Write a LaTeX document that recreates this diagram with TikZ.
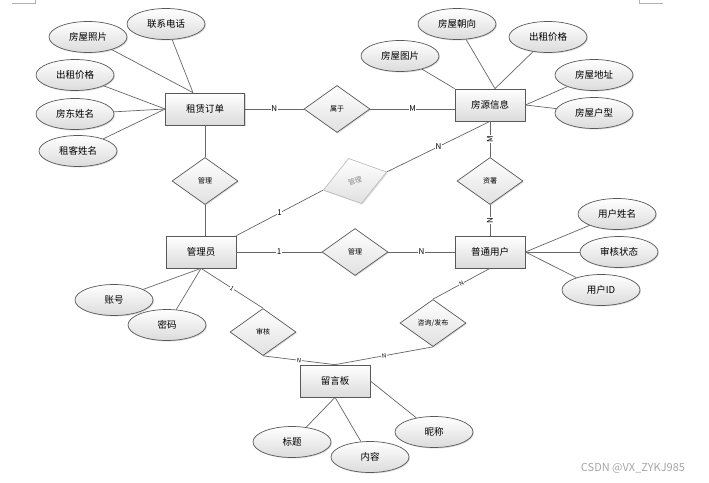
\documentclass[tikz,border=0pt]{standalone}
\usepackage{fontspec}
\setmainfont{Noto Sans CJK SC}
\usepackage{tikz}
\usetikzlibrary{positioning}
\usetikzlibrary{shapes.geometric, shadows}

\tikzset{
    entity/.style={rectangle, draw=black!65, line width=0.7pt, minimum width=70pt, minimum height=32pt,
        top color=white, bottom color=black!14, drop shadow={shadow xshift=1pt, shadow yshift=-1pt, opacity=0.3},
        font=\fontsize{9.5}{11}\selectfont},
    attrib/.style={ellipse, draw=black!65, line width=0.7pt, minimum width=78pt, minimum height=31pt, inner sep=0pt,
        top color=white, bottom color=black!14, drop shadow={shadow xshift=1pt, shadow yshift=-1pt, opacity=0.3},
        font=\fontsize{9.5}{11}\selectfont},
    relation/.style={diamond, draw=black!65, line width=0.7pt, minimum width=66pt, minimum height=47pt, inner sep=0pt,
        top color=white, bottom color=black!12, drop shadow={shadow xshift=1pt, shadow yshift=-1pt, opacity=0.3},
        font=\fontsize{7}{8}\selectfont},
    link/.style={draw=black!60, line width=0.7pt},
    card/.style={fill=white, inner sep=0.6pt, font=\fontsize{8}{8}\selectfont},
}

\begin{document}
\begin{tikzpicture}[x=1pt, y=-1pt, on grid]
    \useasboundingbox (0,0) rectangle (709,482);
    \draw[black!30] (12,3) -- (35,3) -- (35,0);
    \draw[black!30] (639,0) -- (639,3) -- (663,3);

    \node[entity, minimum width=79pt] (zd) at (205,109) {租赁订单};
    \node[entity] (fy) at (490,105) {房源信息};
    \node[entity] (gly) at (201,252) {管理员};
    \node[entity] (pt) at (490,252) {普通用户};
    \node[entity] (ly) at (335,381) {留言板};

    \node[relation, right=132pt of zd] (sy) {属于};
    \node[relation, below=72pt of zd] (gla) {管理};
    \node[relation, below=76pt of fy] (zs) {资署};
    \node[relation, right=154pt of gly] (glc) {管理};
    \node[relation, above right=71pt and 154pt of gly, rotate=16, draw=black!25, text=black!45] (glb) {管理};
    \node[relation, below right=80pt and 62pt of gly] (sh) {审核};
    \node[relation, below left=71pt and 57pt of pt] (zx) {咨询/发布};

    \node[attrib, above left=72pt and 117pt of zd] (zp) {房屋照片};
    \node[attrib, above left=85pt and 39pt of zd] (dh) {联系电话};
    \node[attrib, above left=34pt and 130pt of zd] (jga) {出租价格};
    \node[attrib, below left=5pt and 130pt of zd] (fd) {房东姓名};
    \node[attrib, below left=42pt and 127pt of zd] (zk) {租客姓名};

    \node[attrib, above left=49pt and 90pt of fy] (tp) {房屋图片};
    \node[attrib, above left=81pt and 33pt of fy] (cx) {房屋朝向};
    \node[attrib, above right=68pt and 58pt of fy] (jgb) {出租价格};
    \node[attrib, above right=30pt and 104pt of fy] (dz) {房屋地址};
    \node[attrib, below right=8pt and 104pt of fy] (hx) {房屋户型};

    \node[attrib, above right=38pt and 127pt of pt] (xm) {用户姓名};
    \node[attrib, right=129pt of pt] (zt) {审核状态};
    \node[attrib, below right=38pt and 111pt of pt] (uid) {用户ID};

    \node[attrib, below left=48pt and 87pt of gly] (zh) {账号};
    \node[attrib, below left=73pt and 34pt of gly] (mm) {密码};

    \node[attrib, below left=61pt and 43pt of ly] (bt) {标题};
    \node[attrib, below right=76pt and 35pt of ly] (nr) {内容};
    \node[attrib, below right=51pt and 99pt of ly] (nc) {昵称};

    \draw[link] (zp) -- ([xshift=-12pt]zd.north);
    \draw[link] (dh) -- ([xshift=-12pt]zd.north);
    \draw[link] (jga) -- (zd.west);
    \draw[link] (fd) -- (zd.west);
    \draw[link] (zk) -- (zd.west);

    \draw[link] (tp) -- (fy.north west);
    \draw[link] (cx) -- ([xshift=5pt]fy.north);
    \draw[link] (jgb) -- ([xshift=5pt]fy.north);
    \draw[link] (dz) -- (fy.east);
    \draw[link] (hx) -- (fy.east);

    \draw[link] (xm) -- (pt.east);
    \draw[link] (zt) -- (pt.east);
    \draw[link] (uid) -- (pt.east);

    \draw[link] (zh) -- (gly.south);
    \draw[link] (mm) -- (gly.south);

    \draw[link] (bt) -- (ly.south);
    \draw[link] (nr) -- (ly.south);
    \draw[link] (nc) -- (ly.east);

    \draw[link] (zd) -- node[card] {N} (sy);
    \draw[link] (sy) -- node[card] {M} (sy -| fy.west);
    \draw[link] (zd) -- (gla);
    \draw[link] (gla) -- (gla |- gly.north);
    \draw[link] (gly.north east) -- node[card] {1} (glb.west);
    \draw[link] (glb.east) -- node[card] {N} (fy.south);
    \draw[link] (fy) -- node[card, rotate=90] {M} (zs);
    \draw[link] (zs) -- node[card, rotate=90] {N} (pt);
    \draw[link] (gly) -- node[card] {1} (glc);
    \draw[link] (glc) -- node[card] {N} (pt);
    \draw[link] (gly.south) -- node[card, sloped, font=\fontsize{6}{6}\selectfont] {1} (sh.north);
    \draw[link] (sh.south) -- node[card, sloped, font=\fontsize{6}{6}\selectfont] {N} (ly.north);
    \draw[link] (pt.south) -- node[card, sloped, font=\fontsize{6}{6}\selectfont] {N} (zx.north);
    \draw[link] (zx.south) -- node[card, sloped, font=\fontsize{6}{6}\selectfont] {N} (ly.north);

    \node[text=black!35, font=\fontsize{11}{12}\selectfont] (wm) at (633,468) {CSDN @VX\_ZYKJ985};
\end{tikzpicture}
\end{document}
